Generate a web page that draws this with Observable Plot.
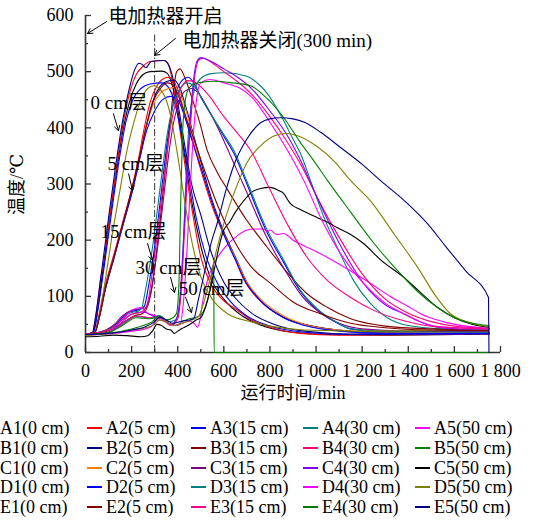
<!DOCTYPE html>
<html>
<head>
<meta charset="utf-8">
<script src="https://cdn.jsdelivr.net/npm/d3@7"></script>
<script src="https://cdn.jsdelivr.net/npm/@observablehq/plot@0.6"></script>
<style>
  html, body { margin: 0; padding: 0; background: #fff; overflow: hidden; }
  #wrap { position: relative; width: 553px; height: 520px; }
  #legend { position: absolute; left: 0; top: 0; width: 553px; height: 520px; pointer-events: none;
            font-family: "Liberation Serif", "Times New Roman", Tinos, "DejaVu Serif", serif, "Noto Sans CJK SC"; font-size: 18px; color: #000; }
  .item { position: absolute; white-space: nowrap; line-height: 20px; height: 20px; }
  .sw { position: absolute; top: 9px; width: 15px; height: 2px; }
</style>
</head>
<body>
<div id="wrap"><div id="chart"></div><div id="legend"></div></div>
<script>
// ---------- tick values ----------
const xTicks = [0, 200, 400, 600, 800, 1000, 1200, 1400, 1600, 1800];
const xMinorTicks = [100, 300, 500, 700, 900, 1100, 1300, 1500, 1700];
const yTicks = [0, 100, 200, 300, 400, 500, 600];
const yMinorTicks = [50, 150, 250, 350, 450, 550];
const heaterOffTime = [300];

// ---------- series (time min, temperature °C) ----------
// 0 cm layer
const A1 = [[0,32],[30,33],[45,55],[70,130],[100,225],[130,310],[160,390],[190,445],[220,478],[250,495],[280,500],[330,501],[355,497],[380,470],[405,420],[430,350],[460,270],[500,190],[540,135],[600,95],[680,65],[780,46],[900,36],[1050,32],[1300,31],[1750,33]];
const B1 = [[0,33],[30,35],[45,65],[72,145],[78,150],[82,160],[100,225],[130,315],[160,400],[190,460],[220,495],[250,510],[280,518],[340,520],[360,512],[385,465],[410,395],[440,310],[470,235],[500,170],[540,125],[600,92],[650,78],[720,58],[800,45],[930,34],[1100,31],[1750,33]];
const C1 = [[0,33],[35,36],[55,80],[85,165],[115,255],[145,340],[175,410],[205,450],[240,470],[280,478],[330,480],[360,472],[390,440],[420,380],[450,310],[480,240],[520,175],[570,125],[630,90],[700,65],[800,47],[950,36],[1150,32],[1750,33]];
const D1 = [[0,33],[30,35],[42,60],[70,145],[100,240],[130,330],[160,410],[190,470],[215,505],[232,515],[245,513],[262,507],[285,518],[340,520],[355,516],[375,495],[400,445],[430,370],[460,300],[500,245],[540,185],[600,125],[650,97],[720,70],[820,50],[950,38],[1150,33],[1750,34]];
const E1 = [[0,32],[40,35],[60,65],[90,140],[120,220],[150,290],[180,360],[210,410],[240,450],[270,470],[295,475],[320,470],[345,455],[370,420],[400,350],[430,270],[460,200],[500,135],[550,95],[620,68],[716,55],[800,47],[950,40],[1200,38],[1750,40]];
// 5 cm layer
const A2 = [[0,33],[40,35],[55,60],[80,110],[120,170],[160,230],[200,290],[230,345],[255,400],[280,445],[310,475],[340,488],[365,490],[385,482],[410,455],[440,410],[470,370],[500,325],[550,260],[600,210],[643,172],[686,130],[750,95],[850,65],[933,52],[1050,42],[1200,36],[1750,35]];
const B2 = [[0,33],[40,35],[60,62],[85,110],[125,170],[165,230],[205,290],[235,345],[262,400],[290,445],[320,472],[355,483],[385,485],[410,470],[440,430],[470,385],[500,340],[550,270],[600,215],[650,170],[700,125],[760,92],[860,62],[950,50],[1100,40],[1300,35],[1750,34]];
const C2 = [[0,33],[40,35],[58,60],[82,108],[122,168],[162,228],[202,288],[232,340],[260,395],[290,438],[325,462],[360,470],[385,472],[410,462],[440,425],[470,380],[500,332],[550,265],[600,212],[650,168],[700,125],[760,95],[860,65],[950,50],[1100,40],[1300,36],[1750,35]];
const D2 = [[0,33],[40,35],[58,62],[85,112],[125,172],[165,232],[205,292],[235,345],[265,395],[300,430],[340,452],[370,456],[400,450],[430,420],[460,380],[500,330],[550,265],[600,210],[650,165],[700,122],[760,92],[860,62],[950,48],[1100,38],[1300,34],[1750,34]];
const E2 = [[0,33],[40,35],[60,62],[85,112],[125,172],[165,235],[205,298],[235,350],[262,400],[292,445],[325,470],[355,480],[380,476],[405,455],[435,420],[470,380],[520,320],[580,255],[650,195],[720,152],[803,123],[900,90],[1019,69],[1150,52],[1300,44],[1500,40],[1750,39]];
// 15 cm layer
const A3 = [[0,33],[60,36],[120,46],[160,62],[190,72],[230,76],[255,82],[270,110],[290,160],[310,220],[330,290],[350,360],[370,420],[395,465],[420,485],[445,490],[470,480],[500,455],[550,420],[600,385],[643,355],[700,300],[780,220],[860,160],[930,110],[1000,78],[1080,55],[1150,42],[1300,37],[1750,36]];
const B3 = [[0,33],[60,35],[120,42],[170,55],[210,65],[250,70],[275,90],[290,120],[304,164],[325,240],[345,320],[365,400],[380,460],[395,500],[410,505],[430,490],[460,455],[495,410],[528,360],[570,322],[616,290],[700,235],[789,187],[880,140],[960,105],[1050,80],[1150,60],[1300,47],[1500,42],[1750,40]];
const C3 = [[0,33],[60,36],[120,48],[160,65],[200,75],[240,78],[265,80],[280,100],[300,150],[320,210],[340,280],[360,350],[380,405],[405,445],[430,465],[460,470],[490,462],[530,435],[580,395],[640,340],[700,285],[780,210],[860,150],[940,100],[1020,70],[1100,52],[1200,42],[1400,38],[1750,37]];
const D3 = [[0,33],[60,36],[120,45],[160,60],[190,70],[230,74],[245,80],[255,100],[275,146],[295,200],[315,265],[335,330],[355,390],[380,440],[410,470],[440,480],[470,475],[500,455],[550,420],[600,388],[643,360],[700,305],[780,225],[860,164],[930,112],[1000,80],[1080,56],[1150,42],[1300,37],[1750,36]];
const E3 = [[0,33],[60,36],[120,44],[160,58],[200,68],[240,72],[260,78],[275,100],[292,150],[310,205],[330,275],[350,345],[370,405],[395,450],[420,475],[445,484],[480,480],[530,460],[600,420],[650,395],[716,360],[800,290],[880,225],[960,170],[1050,128],[1150,98],[1250,75],[1350,60],[1450,50],[1600,44],[1750,42]];
// 30 cm layer
const A4 = [[0,32],[100,36],[160,50],[220,64],[280,62],[320,66],[360,55],[390,58],[410,90],[420,150],[430,250],[440,350],[455,430],[475,470],[500,488],[540,496],[600,498],[700,492],[750,478],[789,461],[850,420],[900,380],[933,354],[976,306],[1030,245],[1100,180],[1163,128],[1230,90],[1309,62],[1400,48],[1550,42],[1750,40]];
const B4 = [[0,32],[100,36],[160,52],[220,65],[280,62],[330,60],[370,48],[400,60],[415,110],[430,220],[445,340],[460,430],[475,495],[490,520],[510,524],[540,518],[600,500],[660,482],[720,460],[800,420],[870,378],[940,330],[1000,280],[1100,205],[1200,140],[1300,95],[1400,70],[1500,55],[1600,47],[1750,43]];
const C4 = [[0,32],[100,36],[160,55],[200,68],[250,72],[300,64],[330,63],[370,50],[395,60],[410,100],[425,200],[440,320],[455,420],[470,490],[485,520],[500,525],[520,523],[560,515],[600,505],[660,490],[720,470],[800,430],[870,390],[933,342],[1000,280],[1100,195],[1206,123],[1300,85],[1380,69],[1450,55],[1527,45],[1750,40]];
const D4 = [[0,32],[100,36],[160,60],[200,75],[240,80],[270,70],[300,66],[340,58],[380,48],[410,50],[425,90],[440,180],[455,300],[470,400],[485,460],[500,480],[540,486],[600,480],[672,470],[720,455],[800,410],[876,360],[947,306],[1020,240],[1100,180],[1206,123],[1300,88],[1380,69],[1450,55],[1527,46],[1750,42]];
const E4 = [[0,32],[100,36],[160,48],[220,62],[280,60],[320,65],[350,58],[380,62],[395,70],[405,120],[412,250],[420,380],[430,440],[445,468],[470,478],[500,481],[560,483],[640,480],[716,475],[780,455],[860,418],[930,375],[989,342],[1050,306],[1150,250],[1250,195],[1380,134],[1450,105],[1527,80],[1600,62],[1680,52],[1750,48]];
// 50 cm layer
const A5 = [[0,31],[100,33],[200,38],[260,42],[290,48],[310,58],[330,57],[360,52],[390,48],[420,52],[450,56],[475,50],[485,45],[495,55],[510,95],[530,130],[560,160],[600,185],[659,208],[700,218],[730,220],[773,220],[790,215],[800,218],[830,210],[860,212],[900,200],[947,190],[1000,180],[1063,166],[1150,145],[1236,123],[1320,100],[1400,82],[1453,69],[1550,55],[1650,47],[1750,43]];
const B5 = [[0,31],[100,34],[200,42],[250,48],[290,55],[310,62],[330,60],[360,52],[390,48],[420,55],[450,60],[470,62],[490,64],[510,72],[530,95],[545,125],[556,160],[558,0],[1750,0]];
const C5 = [[0,28],[60,29],[120,31],[180,30],[240,28],[270,30],[290,38],[310,50],[330,48],[350,42],[370,40],[385,34],[400,38],[420,43],[440,47],[460,52],[480,58],[500,62],[520,80],[540,110],[560,150],[580,190],[600,218],[625,232],[650,250],[686,270],[720,285],[760,292],[800,294],[840,288],[860,283],[880,270],[889,265],[930,255],[1006,240],[1050,232],[1093,222],[1150,210],[1206,194],[1280,165],[1380,134],[1450,108],[1527,80],[1600,62],[1680,50],[1750,45]];
const D5 = [[0,31],[100,34],[200,40],[260,44],[300,50],[320,58],[350,55],[380,48],[420,52],[460,58],[490,64],[510,85],[540,130],[570,185],[600,230],[650,290],[700,338],[759,368],[820,386],[870,390],[920,386],[1000,368],[1080,340],[1150,306],[1236,270],[1340,210],[1440,152],[1520,100],[1583,69],[1650,55],[1750,46]];
const E5 = [[0,32],[100,34],[200,40],[260,46],[300,55],[320,63],[350,58],[380,52],[420,56],[450,58],[469,60],[490,95],[520,150],[545,195],[572,231],[610,290],[643,333],[700,380],[759,409],[800,416],[846,418],[900,416],[950,410],[1020,392],[1106,365],[1200,335],[1280,306],[1397,265],[1484,229],[1560,190],[1650,145],[1748,98],[1750,0]];

const seriesLabels = [
  "A1(0 cm)","A2(5 cm)","A3(15 cm)","A4(30 cm)","A5(50 cm)",
  "B1(0 cm)","B2(5 cm)","B3(15 cm)","B4(30 cm)","B5(50 cm)",
  "C1(0 cm)","C2(5 cm)","C3(15 cm)","C4(30 cm)","C5(50 cm)",
  "D1(0 cm)","D2(5 cm)","D3(15 cm)","D4(30 cm)","D5(50 cm)",
  "E1(0 cm)","E2(5 cm)","E3(15 cm)","E4(30 cm)","E5(50 cm)"
];
const seriesColors = [
  "#000000","#ff0000","#0000ff","#008080","#ff00ff",
  "#ff0000","#000080","#800000","#ff0080","#008000",
  "#0000ff","#ff8000","#800080","#8000ff","#000000",
  "#000080","#0000ff","#008080","#ff00ff","#808000",
  "#808000","#800000","#ff0080","#008000","#000080"
];
const seriesData = [A1,A2,A3,A4,A5,B1,B2,B3,B4,B5,C1,C2,C3,C4,C5,D1,D2,D3,D4,D5,E1,E2,E3,E4,E5];

// ---------- annotations (data units) ----------
const noteTexts = ["电加热器开启","电加热器关闭(300 min)","0 cm层","5 cm层","15 cm层","30 cm层","50 cm层"];
const noteX = [100, 421, 22, 95, 65, 217, 404];
const noteY = [597, 555, 445, 336, 215, 150, 114];
const arrowFrom = [[91,589],[390,559],[121,425],[187,318],[269,194],[369,134],[434,98]];
const arrowTo = [[9,568],[300,529],[143,395],[204,288],[291,164],[386,107],[460,71]];

const notes = noteTexts.map((t, i) => ({text: t, x: noteX[i], y: noteY[i]}));
const arrows = arrowFrom.map((f, i) => ({x1: f[0], y1: f[1], x2: arrowTo[i][0], y2: arrowTo[i][1]}));

const font = '"Liberation Serif", "Times New Roman", Tinos, "DejaVu Serif", serif, "Noto Sans CJK SC"';
const fmt = d => d >= 1000 ? d3.format(",")(d).replace(",", " ") : String(d);

const lineMarks = seriesData.map((pts, i) =>
  Plot.line(pts, {x: d => d[0], y: d => d[1], stroke: seriesColors[i], strokeWidth: 1.1, curve: "monotone-x"})
);

const chart = Plot.plot({
  width: 553,
  height: 410,
  marginLeft: 85,
  marginRight: 53,
  marginTop: 15,
  marginBottom: 58,
  style: {fontFamily: font, fontSize: "18px", background: "transparent", color: "#000"},
  x: {domain: [0, 1800]},
  y: {domain: [0, 600]},
  marks: [
    Plot.ruleX(heaterOffTime, {y1: 0, y2: 570, stroke: "#333", strokeWidth: 1, strokeDasharray: "7,2.5,1.5,2.5"}),
    Plot.ruleY([0], {stroke: "#333", strokeWidth: 1.6}),
    Plot.ruleX([0], {stroke: "#333", strokeWidth: 1.6}),
    Plot.axisX(xTicks, {tickSize: -6, tickPadding: 18, tickFormat: fmt, label: null, fontSize: 18, stroke: "#333", strokeWidth: 1.3}),
    Plot.axisX(xMinorTicks, {tickSize: -3, tickPadding: 0, tickFormat: () => "", label: null, stroke: "#333", strokeWidth: 1.3}),
    Plot.axisY(yTicks, {tickSize: -6, tickPadding: 18, label: null, fontSize: 18, stroke: "#333", strokeWidth: 1.3}),
    Plot.axisY(yMinorTicks, {tickSize: -3, tickPadding: 0, tickFormat: () => "", label: null, stroke: "#333", strokeWidth: 1.3}),
    ...lineMarks,
    Plot.text(["运行时间/min"], {frameAnchor: "bottom", dy: 46, fontSize: 18, fill: "#000"}),
    Plot.text(["温度/℃"], {frameAnchor: "left", rotate: -90, dx: -68, dy: 31, fontSize: 18, fill: "#000"}),
    Plot.arrow(arrows, {x1: "x1", y1: "y1", x2: "x2", y2: "y2", bend: 0, headLength: 8, stroke: "#000", strokeWidth: 1}),
    Plot.text(notes, {x: "x", y: "y", text: "text", textAnchor: "start", fontSize: 19, fill: "#000"})
  ]
});
document.getElementById("chart").appendChild(chart);

// ---------- legend ----------
const legendTextX = [0, 106, 210, 322, 434];
const legendRowY = [428, 448, 468, 487, 507];
const legend = document.getElementById("legend");
seriesLabels.forEach((lab, i) => {
  const r = Math.floor(i / 5), c = i % 5;
  const item = document.createElement("div");
  item.className = "item";
  item.style.left = legendTextX[c] + "px";
  item.style.top = (legendRowY[r] - 10) + "px";
  const sw = document.createElement("span");
  sw.className = "sw";
  sw.style.left = "-19px";
  sw.style.background = seriesColors[i];
  item.appendChild(sw);
  item.appendChild(document.createTextNode(lab));
  legend.appendChild(item);
});
</script>
</body>
</html>
